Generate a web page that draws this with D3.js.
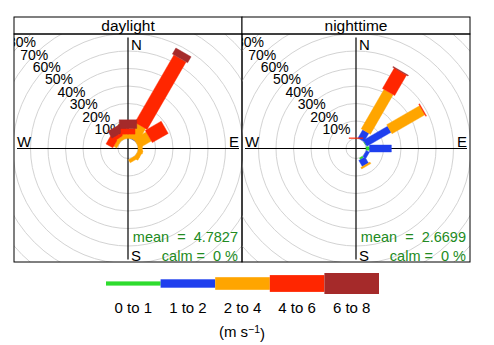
<!DOCTYPE html>
<html>
<head>
<meta charset="utf-8">
<script src="https://cdn.jsdelivr.net/npm/d3@7"></script>
<style>
  body { margin: 0; background: #fff; }
  text { font-family: "Liberation Sans", Arial, sans-serif; }
</style>
</head>
<body>
<svg id="rose"></svg>
<script>
const width = 494;
const height = 345;

// wind speed bins and their colours
const speedBins = ["0 to 1", "1 to 2", "2 to 4", "4 to 6", "6 to 8"];
const binColours = ["#2edc2e", "#1f3fee", "#ffa500", "#ff2600", "#a52a2a"];

// direction sectors (degrees) and panel names
const directions = [30, 60, 90, 120, 150, 180, 210, 240, 270, 300, 330, 360];
const panels = ["daylight", "nighttime"];

// frequency (%) per direction, one value per speed bin
const daylightFreq = [
  [0, 0.2, 9, 44.5, 4],
  [0, 0, 8, 10.5, 0],
  [0, 0, 2.5, 0, 0],
  [0, 0, 2.5, 0, 0],
  [0, 0, 2, 0, 0],
  [0, 0, 0, 0, 0],
  [0, 0, 0, 0, 0],
  [0, 0, 0, 0, 0],
  [0, 0, 0, 0, 0],
  [0, 0, 2, 4.5, 0],
  [0, 0, 2, 2, 4.5],
  [0, 0, 2.5, 3.2, 5]
];
const nighttimeFreq = [
  [0, 5.5, 26, 13.5, 0.5],
  [0.3, 16, 21.7, 0.5, 0],
  [2, 12.5, 0, 0, 0],
  [0, 2, 0, 0, 0],
  [1, 4, 1, 0, 0],
  [0, 0, 0, 0, 0],
  [0, 0, 0, 0, 0],
  [0, 0, 0, 0, 0],
  [0, 0, 0, 0, 0],
  [0, 0, 0, 0, 0],
  [0, 0, 0, 0, 0],
  [0, 0, 0, 0.4, 0]
];
const meanSpeed = [4.7827, 2.6699];
const calmPct = [0, 0];
const gridPct = [0, 10, 20, 30, 40, 50, 60, 70, 80, 90, 100];
const labelPct = [10, 20, 30, 40, 50, 60, 70, 80];

const svg = d3.select("#rose")
    .attr("width", width)
    .attr("height", height);

svg.append("rect").attr("width", width).attr("height", height).attr("fill", "#fff");

const panelW = 228;
const stripTop = 17, stripH = 17;
const plotTop = stripTop + stripH, plotH = 228;

// radial scale: hole in the middle, then % frequency
const r = d3.scaleLinear().domain([0, 80]).range([10, 150]);
const barHalf = d3.scaleLinear().domain([0, 5]).range([0, 8.8]);

const data = [daylightFreq, nighttimeFreq];

panels.forEach(function(name, p) {
    const x0 = 14 + p * panelW;
    const cx = x0 + panelW / 2;
    const cy = plotTop + plotH / 2 + 0.5;

    svg.append("clipPath").attr("id", "clip" + p)
      .append("rect")
        .attr("x", x0).attr("y", plotTop)
        .attr("width", panelW).attr("height", plotH);

    const g = svg.append("g").attr("clip-path", "url(#clip" + p + ")");

    // grid circles
    g.selectAll("circle.grid")
      .data(gridPct)
      .join("circle")
        .attr("cx", cx).attr("cy", cy)
        .attr("r", d => r(d))
        .attr("fill", "none")
        .attr("stroke", "#d3d3d3")
        .attr("stroke-width", 1);

    // percentage labels along 315 degrees
    const a = 315 * Math.PI / 180;
    g.selectAll("text.pct")
      .data(labelPct)
      .join("text")
        .attr("x", d => cx + r(d) * Math.sin(a))
        .attr("y", d => cy - r(d) * Math.cos(a))
        .attr("text-anchor", "middle")
        .attr("dy", "0.35em")
        .attr("font-size", "14px")
        .attr("fill", "#000")
        .text(d => d + "%");

    // axis cross
    g.append("line").attr("x1", cx).attr("x2", cx)
        .attr("y1", cy - 111).attr("y2", cy + 111)
        .attr("stroke", "#000").attr("stroke-width", 1.2);
    g.append("line").attr("x1", cx - 111).attr("x2", cx + 111)
        .attr("y1", cy).attr("y2", cy)
        .attr("stroke", "#000").attr("stroke-width", 1.2);

    const compass = [
        {t: "N", x: cx + 3, y: cy - 104, anchor: "start"},
        {t: "S", x: cx + 3, y: cy + 107, anchor: "start"},
        {t: "W", x: cx - 111, y: cy - 7, anchor: "start"},
        {t: "E", x: cx + 111, y: cy - 7, anchor: "end"}
    ];
    g.selectAll("text.dir")
      .data(compass)
      .join("text")
        .attr("x", d => d.x).attr("y", d => d.y)
        .attr("dy", "0.35em")
        .attr("text-anchor", d => d.anchor)
        .attr("font-size", "15px")
        .text(d => d.t);

    // stacked bars
    const segs = [];
    data[p].forEach(function(row, i) {
        let cum = 0;
        row.forEach(function(v, j) {
            if (v > 0) segs.push({wd: directions[i], lo: cum, hi: cum + v, j: j});
            cum += v;
        });
    });

    g.selectAll("path.seg")
      .data(segs)
      .join("path")
        .attr("d", function(d) {
            const th = d.wd * Math.PI / 180;
            const w = barHalf(d.j + 1);
            const s = Math.sin(th), c = Math.cos(th);
            const l1 = r(d.lo), l2 = r(d.hi);
            const pts = [
                [l1 * s - w * c, l1 * c + w * s],
                [l1 * s + w * c, l1 * c - w * s],
                [l2 * s + w * c, l2 * c - w * s],
                [l2 * s - w * c, l2 * c + w * s]
            ].map(q => [cx + q[0], cy - q[1]]);
            return d3.line()(pts) + "Z";
        })
        .attr("fill", d => binColours[d.j])
        .attr("stroke", d => binColours[d.j])
        .attr("stroke-width", 0.4);

    // mean / calm
    g.append("text")
        .attr("x", x0 + panelW - 4).attr("y", cy + 88)
        .attr("dy", "0.35em")
        .attr("text-anchor", "end")
        .attr("font-size", "14.5px")
        .attr("fill", "#228b22")
        .style("white-space", "pre")
        .text("mean  =  " + meanSpeed[p]);
    g.append("text")
        .attr("x", x0 + panelW - 4).attr("y", cy + 107)
        .attr("dy", "0.35em")
        .attr("text-anchor", "end")
        .attr("font-size", "14.5px")
        .attr("fill", "#228b22")
        .style("white-space", "pre")
        .text("calm =  " + calmPct[p] + " %");

    // strip
    svg.append("rect")
        .attr("x", x0).attr("y", stripTop)
        .attr("width", panelW).attr("height", stripH)
        .attr("fill", "#fff")
        .attr("stroke", "#000").attr("stroke-width", 1);
    svg.append("text")
        .attr("x", cx).attr("y", stripTop + stripH / 2)
        .attr("dy", "0.36em")
        .attr("text-anchor", "middle")
        .attr("font-size", "15.5px")
        .text(name);

    // panel frame
    svg.append("rect")
        .attr("x", x0).attr("y", plotTop)
        .attr("width", panelW).attr("height", plotH)
        .attr("fill", "none")
        .attr("stroke", "#000").attr("stroke-width", 1);
});

// legend
const lx = d3.scaleBand().domain(speedBins).range([106, 379]);
const ly = 283.5;
const leg = svg.append("g");
leg.selectAll("rect")
  .data(speedBins)
  .join("rect")
    .attr("x", d => lx(d))
    .attr("width", lx.bandwidth())
    .attr("y", (d, i) => ly - 2.1 * (i + 1))
    .attr("height", (d, i) => 4.2 * (i + 1))
    .attr("fill", (d, i) => binColours[i]);
leg.selectAll("text")
  .data(speedBins)
  .join("text")
    .attr("x", d => lx(d) + lx.bandwidth() / 2)
    .attr("y", 308)
    .attr("dy", "0.35em")
    .attr("text-anchor", "middle")
    .attr("font-size", "15px")
    .text(d => d);

const unit = leg.append("text")
    .attr("x", 242).attr("y", 332)
    .attr("dy", "0.35em")
    .attr("text-anchor", "middle")
    .attr("font-size", "15px");
unit.append("tspan").text("(m s");
unit.append("tspan").attr("dy", "-0.45em").attr("font-size", "10.5px").text("\u22121");
unit.append("tspan").attr("dy", "0.45em").text(")");
</script>
</body>
</html>
